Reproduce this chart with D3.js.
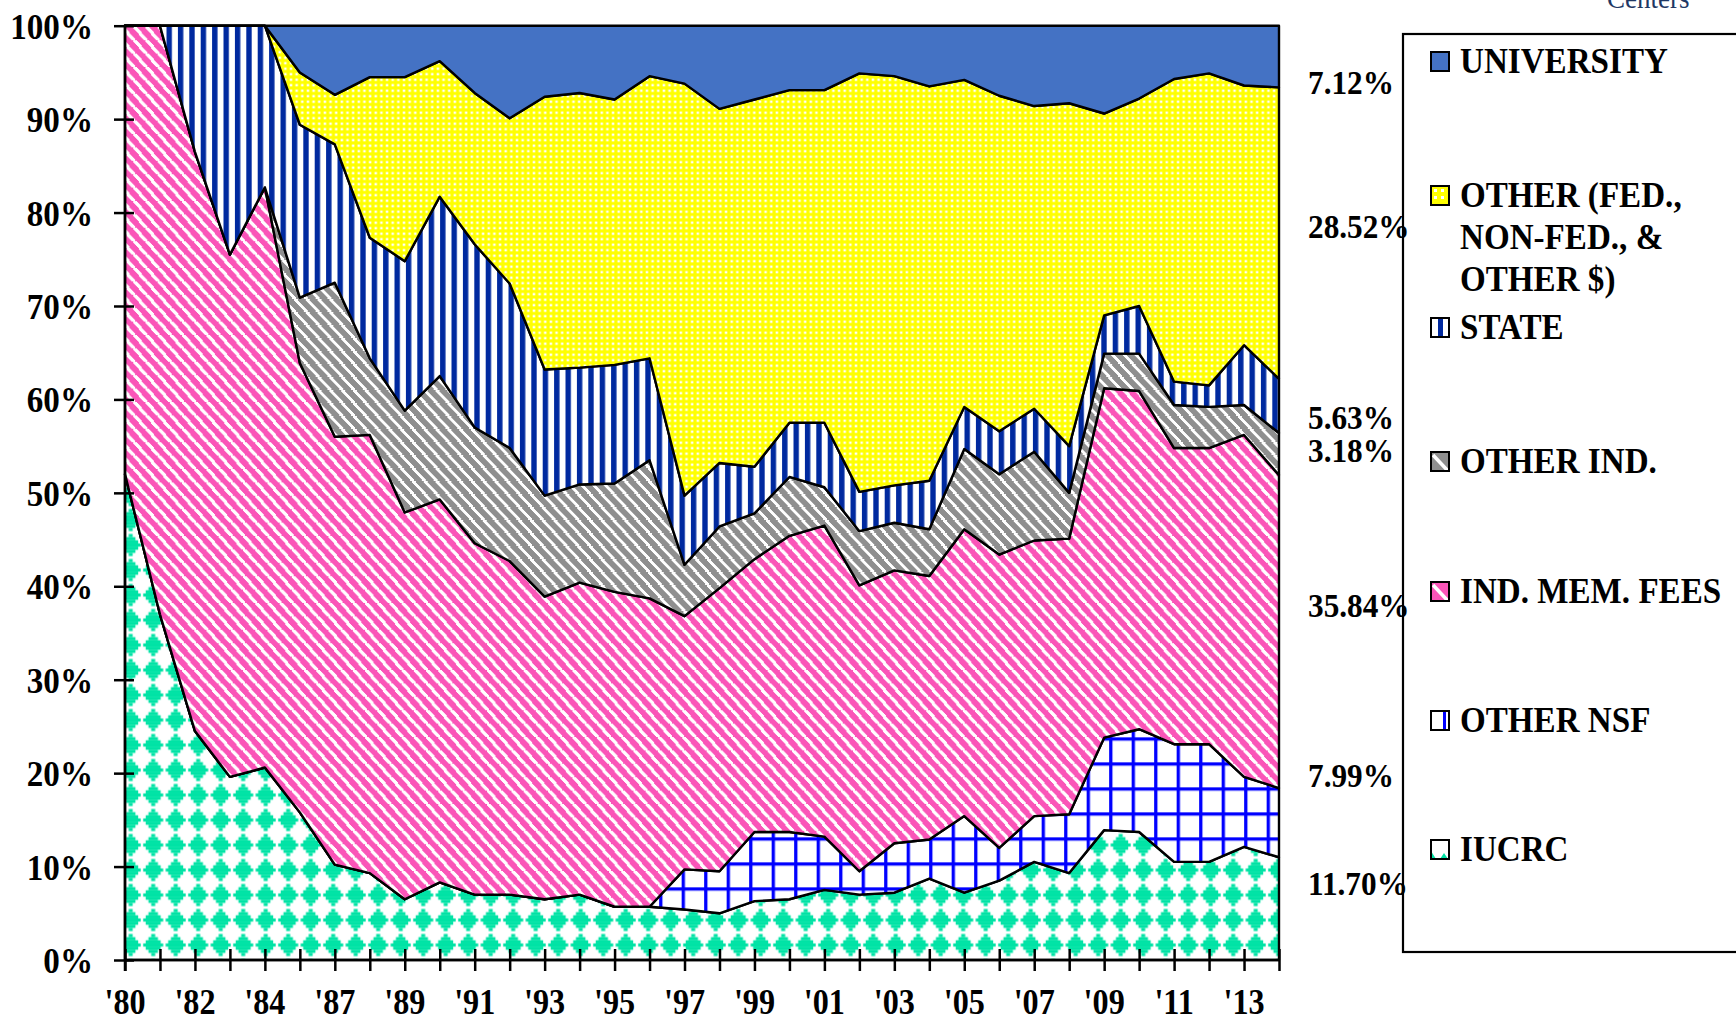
<!DOCTYPE html>
<html><head><meta charset="utf-8">
<script src="https://cdn.jsdelivr.net/npm/d3@7"></script>
<style>
html,body{margin:0;padding:0;background:#fff;overflow:hidden;}
svg{display:block;}
text{font-family:"Liberation Serif","Times New Roman",serif;font-weight:bold;fill:#000;}
</style></head><body>
<svg id="chart" width="1736" height="1021"></svg>
<script>
// ---------------- DATA ----------------
const categories = ["'80","'81","'82","'83","'84","'85","'87","'88","'89","'90","'91","'92","'93","'94","'95","'96","'97","'98","'99","'00","'01","'02","'03","'04","'05","'06","'07","'08","'09","'10","'11","'12","'13","'14"];
const iucrc      = [52,37,24.5,19.6,20.6,15.8,10.2,9.3,6.5,8.3,7.0,7.0,6.5,7.0,5.7,5.7,5.4,5.0,6.3,6.5,7.5,7.0,7.2,8.7,7.2,8.5,10.5,9.3,13.9,13.7,10.5,10.5,12.1,11.0];
const otherNsf   = [0,0,0,0,0,0,0,0,0,0,0,0,0,0,0,0,4.3,4.5,7.4,7.2,5.7,2.5,5.3,4.2,8.2,3.5,4.9,6.3,9.9,11.0,12.6,12.6,7.5,7.4];
const indMemFees = [48,63,62,55.9,62.1,48.1,45.8,46.9,41.4,41.0,37.6,35.7,32.4,33.4,33.7,33.0,27.1,30.3,29.2,31.7,33.3,30.6,29.2,28.2,30.7,31.4,29.5,29.5,37.4,36.2,31.7,31.7,36.6,33.5];
const otherInd   = [0,0,0,0,0,7.0,16.5,8.2,10.9,13.2,12.4,12.1,10.8,10.5,11.6,14.8,5.5,6.6,4.9,6.3,4.1,5.8,5.1,5.0,8.6,8.6,9.5,4.9,3.7,4.0,4.6,4.4,3.2,4.5];
const state      = [0,0,13.5,24.5,17.3,18.5,14.8,12.9,16.0,19.2,19.6,17.6,13.5,12.5,12.7,10.9,7.4,6.8,5.0,5.8,6.9,4.2,4.0,5.2,4.5,4.6,4.6,5.0,4.1,5.1,2.5,2.3,6.4,5.8];
const otherFunds = [0,0,0,0,0,5.6,5.3,17.2,19.7,14.5,16.2,17.7,29.2,29.4,28.4,30.2,44.1,37.9,39.3,35.6,35.6,44.8,43.8,42.2,35.0,35.9,32.4,36.7,21.6,22.2,32.4,33.4,27.8,31.2];
const university = [0,0,0,0,0,5.0,7.4,5.5,5.5,3.8,7.2,9.9,7.6,7.2,7.9,5.4,6.2,8.9,7.9,6.9,6.9,5.1,5.4,6.5,5.8,7.5,8.6,8.3,9.4,7.8,5.7,5.1,6.4,6.6];
const yTickValues = [0,10,20,30,40,50,60,70,80,90,100];
const seriesKeys  = ["iucrc","otherNsf","indMemFees","otherInd","state","otherFunds","university"];
const legendNames = [["UNIVERSITY"],["OTHER (FED.,","NON-FED., &","OTHER $)"],["STATE"],["OTHER IND."],["IND. MEM. FEES"],["OTHER NSF"],["IUCRC"]];
const legendKeys  = ["university","otherFunds","state","otherInd","indMemFees","otherNsf","iucrc"];
const endLabels   = ["7.12%","28.52%","5.63%","3.18%","35.84%","7.99%","11.70%"];

// ---------------- LAYOUT ----------------
const plot = {left:125, right:1279, top:25.7, bottom:960};
const endLabelBaselines = [94,238,429,462,617,787,895];
const legendBaselines = [73,207,339,473,603,732,861];
const legendLineGap = 42;
const SX = 0.92; // horizontal text compression

const svg = d3.select("#chart");
const defs = svg.append("defs");

function pat(id,w,h,x0,y0){
  return defs.append("pattern").attr("id",id).attr("patternUnits","userSpaceOnUse")
    .attr("width",w).attr("height",h).attr("x",x0||0).attr("y",y0||0);
}
{ const p=pat("pOther",5.65,5.5,0,0);
  p.append("rect").attr("width",5.65).attr("height",5.5).attr("fill","#FFFF00");
  p.append("rect").attr("x",1.6).attr("y",1.5).attr("width",2.5).attr("height",2.4).attr("fill","#fff"); }
{ const p=pat("pState",11.4,12,6.9,0);
  p.append("rect").attr("width",11.4).attr("height",12).attr("fill","#fff");
  p.append("rect").attr("width",5.4).attr("height",12).attr("fill","#00299F"); }
function diag(id,bg,w,h,t){
  const p=pat(id,w,h,0,0);
  p.append("rect").attr("width",w).attr("height",h).attr("fill",bg);
  [[-w,0,0,h],[0,0,w,h],[w,0,2*w,h]].forEach(l=>{
    p.append("line").attr("x1",l[0]).attr("y1",l[1]).attr("x2",l[2]).attr("y2",l[3])
      .attr("stroke","#fff").attr("stroke-width",t).attr("shape-rendering","crispEdges");
  });
}
diag("pInd","#8F8F8F",11.8,13,3.0);
diag("pMem","#FA55B8",12.2,13.4,3.4);
{ const p=pat("pNsf",22.5,25,6.65,12.35);
  p.append("rect").attr("width",22.5).attr("height",25).attr("fill","#fff");
  p.append("rect").attr("width",3.3).attr("height",25).attr("fill","#0000FF");
  p.append("rect").attr("width",22.5).attr("height",3.3).attr("fill","#0000FF"); }
{ const p=pat("pIucrc",22.5,25,6.95,7.5);
  p.append("rect").attr("width",22.5).attr("height",25).attr("fill","#fff");
  const widths=[4,9.5,15,20,15,9.5,4], rh=3.15;
  widths.forEach((wd,j)=>{
    p.append("rect").attr("x",11.25-wd/2).attr("y",12.5+(j-3.5)*rh).attr("width",wd).attr("height",rh+0.05).attr("fill","#00E3A5");
  }); }

const fills = {university:"#4472C4", otherFunds:"url(#pOther)", state:"url(#pState)", otherInd:"url(#pInd)", indMemFees:"url(#pMem)", otherNsf:"url(#pNsf)", iucrc:"url(#pIucrc)"};

const x = d3.scalePoint().domain(categories).range([plot.left, plot.right]);
const y = d3.scaleLinear().domain([0,100]).range([plot.bottom, plot.top]);

const source = {iucrc, otherNsf, indMemFees, otherInd, state, otherFunds, university};
const table = categories.map((c,i)=>{ const r={cat:c}; seriesKeys.forEach(k=>r[k]=source[k][i]); return r; });
const stacked = d3.stack().keys(seriesKeys)(table);
const area = d3.area().x(d=>x(d.data.cat)).y0(d=>y(d[0])).y1(d=>y(d[1]));

svg.append("g").selectAll("path").data(stacked).join("path")
  .attr("d",area).attr("fill",d=>fills[d.key])
  .attr("stroke","#000").attr("stroke-width",2.4).attr("stroke-linejoin","round");

// axes
const yAxis = d3.axisLeft(y).tickValues(yTickValues).tickSize(10).tickFormat("");
const gy = svg.append("g").attr("transform",`translate(${plot.left},0)`).call(yAxis);
gy.select(".domain").remove();
gy.selectAll(".tick line").attr("x1",9).attr("x2",-11).attr("stroke","#000").attr("stroke-width",2.5);
svg.append("line").attr("x1",plot.left).attr("x2",plot.left).attr("y1",plot.top-1).attr("y2",plot.bottom+11)
  .attr("stroke","#000").attr("stroke-width",2.5);

const xAxis = d3.axisBottom(x).tickSize(11).tickFormat("");
const gx = svg.append("g").attr("transform",`translate(0,${plot.bottom})`).call(xAxis);
gx.select(".domain").remove();
gx.selectAll(".tick line").attr("y1",-11).attr("y2",11).attr("stroke","#000").attr("stroke-width",2.5);
svg.append("line").attr("x1",plot.left).attr("x2",plot.right).attr("y1",plot.bottom).attr("y2",plot.bottom)
  .attr("stroke","#000").attr("stroke-width",2.5);

function txt(parent,str,tx,ty,size,anchor){
  return parent.append("text").attr("transform",`translate(${tx},${ty}) scale(${SX},1)`)
    .attr("text-anchor",anchor||"start").style("font-size",size+"px").text(str);
}
yTickValues.forEach(v=>txt(svg,v+"%",93,y(v)+13,36,"end"));
categories.forEach((c,i)=>{ if(i%2===0) txt(svg,c,x(c),1014,35,"middle"); });

endLabels.forEach((s,i)=>txt(svg,s,1308,endLabelBaselines[i],34,"start"));

// legend
svg.append("rect").attr("x",1403).attr("y",34).attr("width",400).attr("height",918)
  .attr("fill","none").attr("stroke","#000").attr("stroke-width",2.2);
function swatch(k,sx,sy){
  const g=svg.append("g").attr("transform",`translate(${sx},${sy})`);
  const W=18,H=19;
  const bg={university:"#4472C4",otherFunds:"#FFFF00",state:"#fff",otherInd:"#8F8F8F",indMemFees:"#FA55B8",otherNsf:"#fff",iucrc:"#fff"}[k];
  g.append("rect").attr("width",W).attr("height",H).attr("fill",bg);
  if(k==="otherFunds"){ [[3,3],[10,3],[3,10],[10,10]].forEach(p=>g.append("rect").attr("x",p[0]).attr("y",p[1]).attr("width",3).attr("height",3).attr("fill","#fff")); }
  if(k==="state"){ g.append("rect").attr("x",7).attr("width",5).attr("height",H).attr("fill","#00299F"); }
  if(k==="otherInd"||k==="indMemFees"){ g.append("line").attr("x1",2).attr("y1",3).attr("x2",17).attr("y2",19).attr("stroke","#fff").attr("stroke-width",3.5); }
  if(k==="otherNsf"){ g.append("rect").attr("x",12).attr("width",3).attr("height",H).attr("fill","#0000FF"); }
  if(k==="iucrc"){ g.append("path").attr("d","M0,11 L5,19 L0,19Z M9,19 L13,13 L17,19Z").attr("fill","#00E3A5"); }
  g.append("rect").attr("width",W).attr("height",H).attr("fill","none").attr("stroke","#000").attr("stroke-width",2);
}
legendKeys.forEach((k,i)=>{
  const b=legendBaselines[i];
  swatch(k,1431,b-21);
  legendNames[i].forEach((ln,j)=>txt(svg,ln,1460,b+j*legendLineGap,36,"start"));
});

svg.append("text").attr("transform","translate(1607,8) scale(0.9,1)")
  .style("font-weight","normal").style("font-size","30px").style("fill","#1F3864").text("Centers");
</script>
</body></html>
